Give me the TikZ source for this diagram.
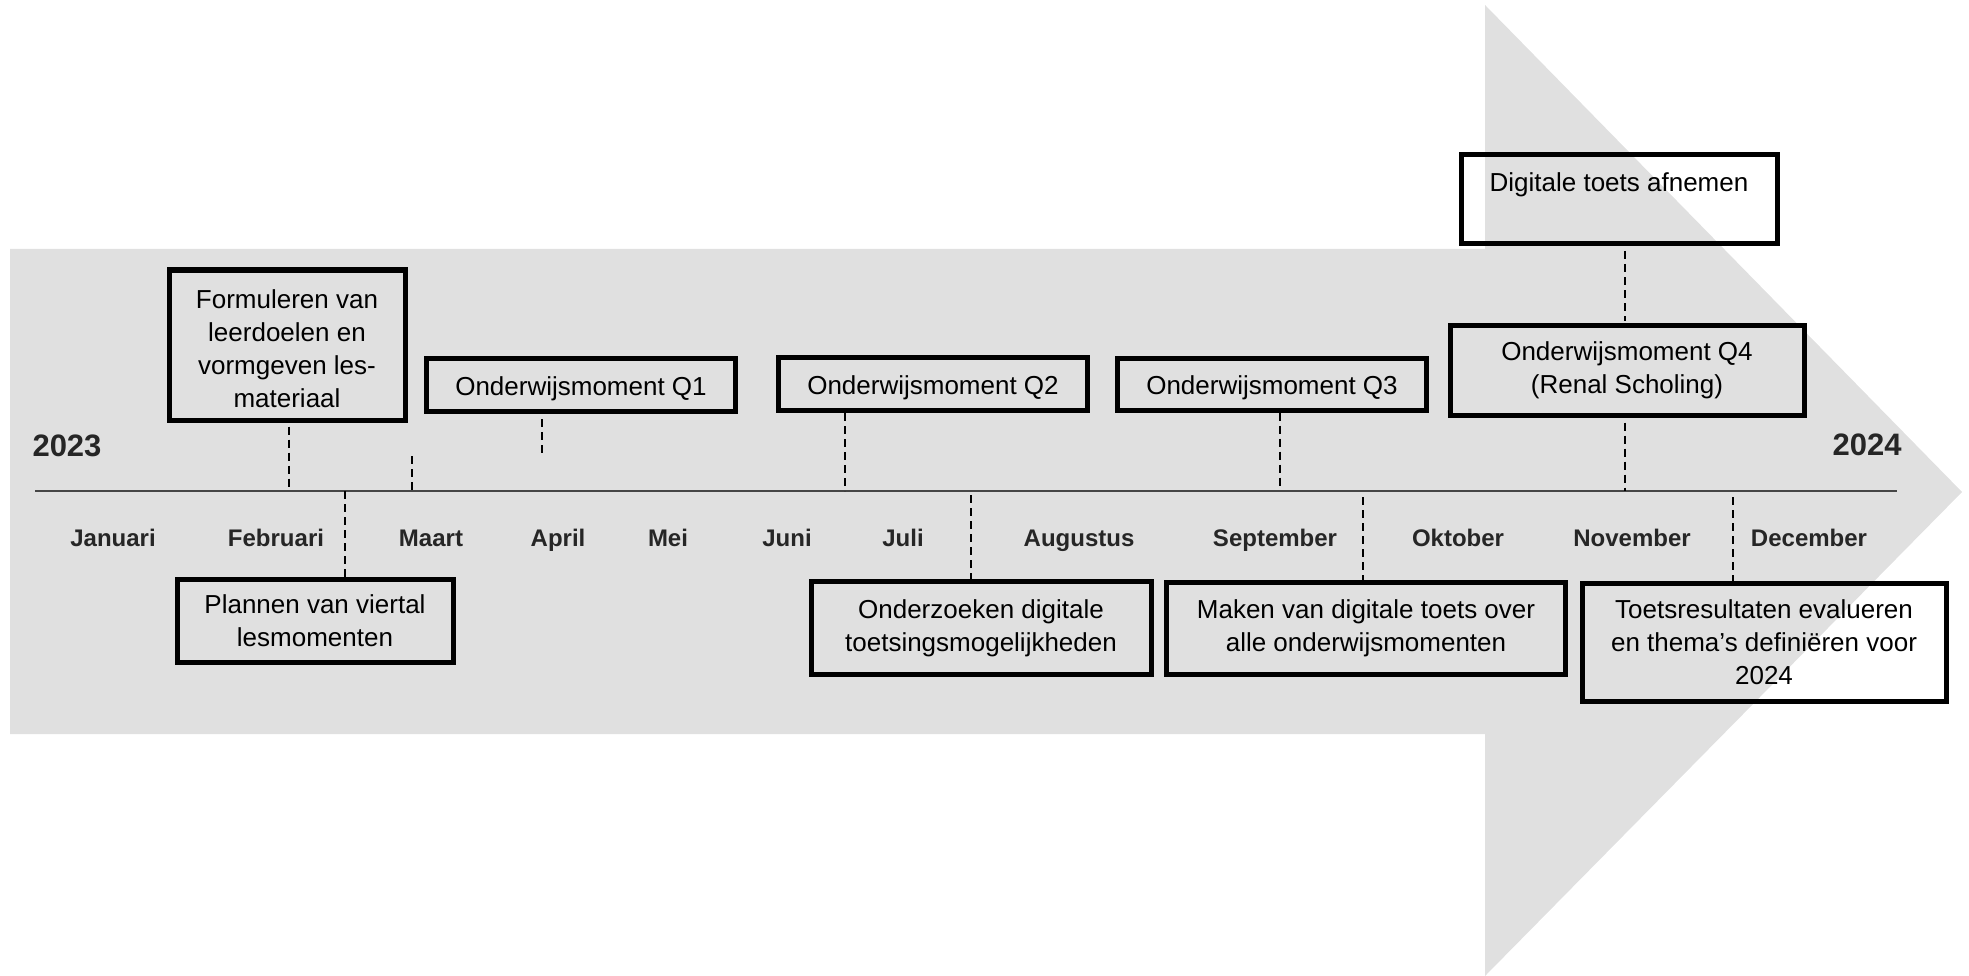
\documentclass[tikz,border=0pt]{standalone}
\usepackage{fontspec}
\setmainfont{Liberation Sans}
\definecolor{band}{RGB}{224,224,224}
\definecolor{ink}{RGB}{0,0,0}
\definecolor{rule}{RGB}{70,70,70}
\tikzset{
  event/.style={draw=ink,line width=5pt,align=center,inner sep=2pt,
    font=\fontsize{26}{33}\selectfont},
  qbox/.style={event,minimum width=309pt,minimum height=53pt,text depth=0pt,text height=21pt},
  month/.style={anchor=base,font=\fontsize{24}{28}\selectfont\bfseries,text=ink!85},
  year/.style={font=\fontsize{31}{36}\selectfont\bfseries,text=ink!85},
  link/.style={draw=ink,line width=2pt,dash pattern=on 8pt off 5pt},
  timeline/.style={draw=rule,line width=1.8pt},
}

\begin{document}
\begin{tikzpicture}[x=1pt,y=-1pt]
  \useasboundingbox (0,0) rectangle (1969,976);
  % big arrow and the time axis
  \fill[band] (10,249) -- (1485,249) -- (1485,5) -- (1962,492) -- (1485,976)
    -- (1485,734) -- (10,734) -- cycle;
  \draw[timeline] (35,491) coordinate (ax-l) -- (1897,491) coordinate (ax-r);
  \node[year] (y1) at (67,446) {2023};
  \node[year] (y2) at (1867,445) {2024};
  \foreach \m/\x in {Januari/113,Februari/276,Maart/431,April/558,Mei/668,Juni/787,
      Juli/903,Augustus/1079,September/1275,Oktober/1458,November/1632,December/1809}
    \node[month] (\m) at (\x,546) {\m};

  % boxes above the axis
  \node[event,minimum width=236pt,minimum height=150pt] (form) at (287,345)
    {\rule{0pt}{27pt}Formuleren van\\leerdoelen en\\vormgeven les-\\materiaal};
  \node[qbox] (q1) at (581,385) {Onderwijsmoment Q1};
  \node[qbox] (q2) at (933,384) {Onderwijsmoment Q2};
  \node[qbox,minimum height=52pt] (q3) at (1272,384) {Onderwijsmoment Q3};
  \node[event,minimum width=354pt,minimum height=90pt] (q4) at (1627,370)
    {Onderwijsmoment Q4\\(Renal Scholing)};
  \node[event,minimum width=316pt,minimum height=89pt] (dig) at (1619,199)
    {Digitale toets afnemen\\\mbox{}};
  % boxes below the axis
  \node[event,minimum width=276pt,minimum height=83pt] (plan) at (315,621)
    {Plannen van viertal\\lesmomenten};
  \node[event,minimum width=340pt,minimum height=93pt] (ond) at (981,628)
    {Onderzoeken digitale\\toetsingsmogelijkheden};
  \node[event,minimum width=399pt,minimum height=92pt] (mak) at (1366,628)
    {Maken van digitale toets over\\alle onderwijsmomenten};
  \node[event,minimum width=364pt,minimum height=118pt] (toets) at (1764,642)
    {Toetsresultaten evalueren\\en thema’s definiëren voor\\2024};

  % ticks on the axis
  \coordinate (k-form) at (289,491);
  \coordinate (k-plan) at (345,491);
  \coordinate (k-maart) at (412,456);
  \coordinate (k-q1) at (542,456);
  \coordinate (k-q2) at (845,491);
  \coordinate (k-ond) at (971,491);
  \coordinate (k-q3) at (1280,491);
  \coordinate (k-mak) at (1363,491);
  \coordinate (k-q4) at (1625,491);
  \coordinate (k-toets) at (1733,491);

  \draw[link,shorten <=4pt] (form.south -| k-form) -- (k-form);
  \draw[link] (k-plan) -- (k-plan |- plan.north);
  \draw[link,shorten <=5pt] (q1.south -| k-q1) -- (k-q1);
  \draw[link] (k-maart) -- (k-maart |- ax-l);
  \draw[link] (q2.south -| k-q2) -- (k-q2);
  \draw[link,shorten <=4pt] (k-ond) -- (k-ond |- ond.north);
  \draw[link,shorten >=4pt] (q3.south -| k-q3) -- (k-q3);
  \draw[link,shorten <=6pt] (k-mak) -- (k-mak |- mak.north);
  \draw[link,shorten <=5pt] (q4.south -| k-q4) -- (k-q4);
  \draw[link,shorten <=5pt,shorten >=2pt] (dig.south -| k-q4) -- (q4.north -| k-q4);
  \draw[link,shorten <=6pt] (k-toets) -- (k-toets |- toets.north);
\end{tikzpicture}
\end{document}
